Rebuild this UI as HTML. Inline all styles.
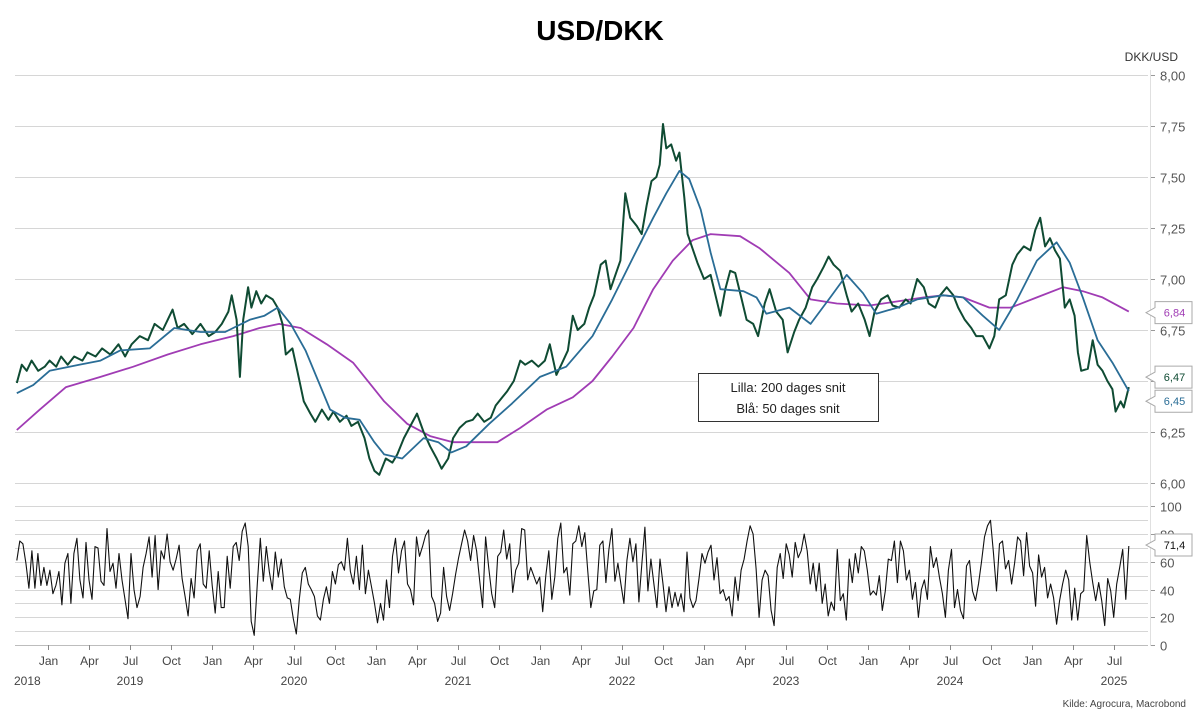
<!DOCTYPE html>
<html><head><meta charset="utf-8"><title>USD/DKK</title>
<style>
html,body{margin:0;padding:0;background:#fff;}
svg{display:block;font-family:"Liberation Sans",sans-serif;}
</style></head>
<body>
<svg id="chart" width="1199" height="720" viewBox="0 0 1199 720" xmlns="http://www.w3.org/2000/svg">
<text x="600" y="40" text-anchor="middle" font-size="28" font-weight="bold" fill="#000">USD/DKK</text>
<text x="1178" y="61" text-anchor="end" font-size="12" fill="#333">DKK/USD</text>
<g id="grid"></g>
<g id="axes"></g>
<g id="series"></g>
<g id="labels"></g>
<g>
<rect x="698.5" y="373.5" width="180" height="48" fill="#fff" stroke="#333" stroke-width="1"/>
<text x="788" y="392" text-anchor="middle" font-size="13" fill="#222">Lilla: 200 dages snit</text>
<text x="788" y="413" text-anchor="middle" font-size="13" fill="#222">Blå: 50 dages snit</text>
</g>
<text x="1186" y="707" text-anchor="end" font-size="10" fill="#444">Kilde: Agrocura, Macrobond</text>
</svg>
<script>
const priceDates=[2018.81,2018.84,2018.87,2018.90,2018.94,2018.98,2019.01,2019.05,2019.08,2019.12,2019.16,2019.21,2019.24,2019.29,2019.33,2019.38,2019.43,2019.47,2019.51,2019.56,2019.61,2019.65,2019.70,2019.73,2019.76,2019.79,2019.83,2019.88,2019.93,2019.98,2020.02,2020.06,2020.10,2020.12,2020.15,2020.17,2020.19,2020.22,2020.24,2020.27,2020.30,2020.33,2020.37,2020.40,2020.43,2020.45,2020.49,2020.52,2020.56,2020.60,2020.63,2020.67,2020.71,2020.74,2020.78,2020.82,2020.85,2020.89,2020.93,2020.96,2020.99,2021.02,2021.06,2021.10,2021.13,2021.17,2021.21,2021.25,2021.29,2021.33,2021.37,2021.40,2021.44,2021.47,2021.51,2021.55,2021.59,2021.62,2021.66,2021.70,2021.73,2021.77,2021.80,2021.84,2021.88,2021.91,2021.95,2021.99,2022.03,2022.06,2022.10,2022.13,2022.17,2022.20,2022.23,2022.27,2022.30,2022.33,2022.37,2022.40,2022.43,2022.46,2022.49,2022.52,2022.55,2022.59,2022.62,2022.65,2022.68,2022.71,2022.73,2022.75,2022.77,2022.80,2022.83,2022.85,2022.88,2022.90,2022.93,2022.96,2023.00,2023.04,2023.07,2023.10,2023.13,2023.16,2023.19,2023.23,2023.26,2023.30,2023.33,2023.37,2023.40,2023.44,2023.48,2023.51,2023.55,2023.58,2023.62,2023.66,2023.69,2023.73,2023.76,2023.79,2023.83,2023.87,2023.90,2023.94,2023.98,2024.01,2024.04,2024.08,2024.12,2024.15,2024.19,2024.23,2024.26,2024.30,2024.34,2024.37,2024.41,2024.44,2024.48,2024.52,2024.55,2024.59,2024.63,2024.66,2024.70,2024.74,2024.77,2024.80,2024.84,2024.88,2024.91,2024.95,2024.99,2025.02,2025.05,2025.08,2025.11,2025.14,2025.17,2025.20,2025.23,2025.26,2025.28,2025.30,2025.34,2025.37,2025.40,2025.43,2025.46,2025.49,2025.51,2025.54,2025.56,2025.59];
const priceValues=[6.49,6.58,6.55,6.60,6.55,6.57,6.60,6.57,6.62,6.58,6.62,6.60,6.64,6.62,6.66,6.63,6.68,6.62,6.68,6.72,6.70,6.78,6.75,6.80,6.85,6.76,6.78,6.73,6.78,6.72,6.74,6.78,6.84,6.92,6.80,6.52,6.80,6.96,6.86,6.94,6.88,6.92,6.90,6.86,6.78,6.63,6.66,6.55,6.40,6.34,6.30,6.36,6.31,6.35,6.30,6.33,6.28,6.30,6.22,6.12,6.06,6.04,6.12,6.10,6.14,6.22,6.28,6.34,6.25,6.18,6.12,6.07,6.12,6.22,6.27,6.30,6.31,6.34,6.30,6.32,6.38,6.42,6.45,6.50,6.60,6.58,6.60,6.57,6.60,6.68,6.53,6.58,6.65,6.82,6.75,6.78,6.86,6.92,7.07,7.09,6.95,7.02,7.09,7.42,7.30,7.26,7.22,7.36,7.48,7.50,7.56,7.76,7.64,7.66,7.58,7.62,7.40,7.22,7.15,7.08,7.00,7.02,6.92,6.82,6.95,7.04,7.03,6.90,6.80,6.78,6.72,6.88,6.95,6.84,6.80,6.64,6.74,6.80,6.86,6.96,7.00,7.06,7.11,7.07,7.04,6.92,6.84,6.88,6.80,6.72,6.84,6.90,6.92,6.87,6.86,6.90,6.88,7.00,6.96,6.88,6.86,6.92,6.96,6.92,6.86,6.80,6.76,6.72,6.72,6.66,6.72,6.90,6.92,7.07,7.12,7.16,7.14,7.24,7.30,7.16,7.20,7.14,7.10,6.86,6.90,6.82,6.64,6.55,6.56,6.70,6.58,6.55,6.50,6.46,6.35,6.40,6.37,6.47];
const ma50Dates=[2018.81,2018.91,2019.01,2019.19,2019.32,2019.44,2019.62,2019.77,2019.93,2020.08,2020.23,2020.32,2020.40,2020.48,2020.57,2020.72,2020.81,2020.90,2020.99,2021.05,2021.16,2021.29,2021.38,2021.46,2021.55,2021.69,2021.83,2022.00,2022.16,2022.32,2022.44,2022.57,2022.69,2022.77,2022.85,2022.91,2022.98,2023.04,2023.10,2023.24,2023.32,2023.38,2023.52,2023.65,2023.77,2023.87,2023.97,2024.05,2024.18,2024.30,2024.46,2024.58,2024.70,2024.80,2024.91,2025.03,2025.15,2025.23,2025.31,2025.40,2025.49,2025.59];
const ma50Values=[6.44,6.48,6.55,6.58,6.60,6.65,6.66,6.76,6.74,6.74,6.80,6.82,6.86,6.78,6.65,6.36,6.32,6.31,6.20,6.14,6.12,6.22,6.20,6.15,6.18,6.29,6.39,6.52,6.57,6.72,6.90,7.11,7.30,7.42,7.53,7.49,7.34,7.13,6.95,6.94,6.91,6.83,6.86,6.78,6.91,7.02,6.93,6.83,6.86,6.90,6.92,6.91,6.82,6.75,6.90,7.09,7.18,7.08,6.91,6.70,6.59,6.45];
const ma200Dates=[2018.81,2018.95,2019.11,2019.32,2019.52,2019.73,2019.93,2020.13,2020.29,2020.41,2020.54,2020.70,2020.86,2020.98,2021.05,2021.19,2021.33,2021.47,2021.63,2021.74,2021.88,2022.04,2022.20,2022.32,2022.44,2022.57,2022.69,2022.81,2022.93,2023.04,2023.22,2023.34,2023.46,2023.52,2023.65,2023.81,2024.01,2024.18,2024.34,2024.46,2024.58,2024.74,2024.87,2025.03,2025.19,2025.31,2025.43,2025.59];
const ma200Values=[6.26,6.36,6.47,6.52,6.57,6.63,6.68,6.72,6.76,6.78,6.76,6.68,6.59,6.47,6.40,6.29,6.23,6.20,6.20,6.20,6.27,6.36,6.42,6.50,6.62,6.76,6.95,7.09,7.19,7.22,7.21,7.15,7.07,7.03,6.90,6.88,6.87,6.89,6.91,6.92,6.91,6.86,6.86,6.91,6.96,6.94,6.91,6.84];
const rsiStart=2018.81, rsiEnd=2025.59;
const rsiValues=[61,75,73,59,41,68,41,66,43,56,43,54,37,43,53,29,59,66,30,66,77,47,34,74,47,33,71,70,46,43,84,53,59,41,66,47,33,19,66,40,27,35,56,66,78,49,79,40,68,62,80,60,54,62,72,48,35,21,48,34,68,73,44,41,68,43,23,53,27,27,64,41,71,74,61,82,88,71,17,7,44,77,46,71,53,40,67,49,62,42,34,33,19,8,33,52,56,44,40,35,21,18,33,42,30,53,44,58,60,54,77,53,44,64,40,72,37,54,42,30,16,30,18,47,27,64,77,52,68,75,44,40,29,78,64,71,79,83,35,30,17,23,56,35,25,37,51,63,73,83,75,61,79,68,47,27,78,56,37,27,64,67,83,62,73,38,54,59,84,83,47,56,50,44,49,24,50,68,33,49,77,88,52,56,36,73,75,86,71,
81,53,27,39,40,72,75,45,69,84,46,59,44,30,61,77,60,73,31,59,85,39,62,44,27,62,44,24,42,27,38,28,37,24,67,34,27,32,48,66,59,67,72,47,63,37,40,32,35,21,49,32,54,62,75,86,80,55,20,47,54,50,25,14,56,66,48,73,65,49,74,63,68,80,68,44,59,39,59,30,44,21,31,25,69,32,37,18,62,45,66,52,71,68,54,36,
39,36,50,25,39,62,61,75,45,75,68,47,54,33,45,20,40,47,33,71,56,63,49,37,20,54,69,27,40,25,19,57,61,39,32,44,60,78,86,90,66,39,73,75,55,61,44,59,78,75,50,81,57,52,28,65,49,56,34,44,34,15,32,44,54,47,18,41,18,37,39,79,60,45,32,45,32,14,48,39,20,44,56,69,33,71.4];
const priceTicks=[6.00,6.25,6.50,6.75,7.00,7.25,7.50,7.75,8.00];
const rsiTicks=[0,20,40,60,80,100];
const monthNames=["Jan","Apr","Jul","Oct"];
const yearLabels=["2018","2019","2020","2021","2022","2023","2024","2025"];
const yearPos=[2018.88,2019.5,2020.5,2021.5,2022.5,2023.5,2024.5,2025.5];

const NS="http://www.w3.org/2000/svg";
const X0=15,X1=1148;
function xs(t){return 48+(t-2019)*164;}
function yP(v){return 483-(v-6)*204;}
function yR(v){return 645-v*1.386;}
function mk(tag,attrs,parent){const e=document.createElementNS(NS,tag);for(const k in attrs)e.setAttribute(k,attrs[k]);parent.appendChild(e);return e;}
const grid=document.getElementById('grid'),axes=document.getElementById('axes'),series=document.getElementById('series'),labels=document.getElementById('labels');
const fmt=v=>v.toFixed(2).replace('.',',');

priceTicks.forEach(v=>{
  const y=Math.round(yP(v))+0.5;
  const l=mk('line',{x1:X0,x2:X1,y1:y,y2:y,stroke:'#d6d6d6','stroke-width':1},grid);
  
  
  mk('line',{x1:X1+2,x2:X1+7,y1:y,y2:y,stroke:'#999','stroke-width':1},axes);
  const t=mk('text',{x:1160,y:y+5,'font-size':13,fill:'#555'},axes);
  t.textContent=fmt(v);
  
  
});
for(let v=0;v<=100;v+=10){
  const y=Math.round(yR(v))+0.5;
  const l=mk('line',{x1:X0,x2:X1,y1:y,y2:y,stroke:v===0?'#bdbdbd':'#d6d6d6','stroke-width':1},grid);
  
  
}
rsiTicks.forEach(v=>{
  const y=Math.round(yR(v))+0.5;
  mk('line',{x1:X1+2,x2:X1+7,y1:y,y2:y,stroke:'#999','stroke-width':1},axes);
  const t=mk('text',{x:1160,y:y+5,'font-size':13,fill:'#555'},axes);
  t.textContent=String(v);
  
  
});
mk('line',{x1:X1+2.5,x2:X1+2.5,y1:70,y2:646,stroke:'#e0e0e0','stroke-width':1},axes);
for(let yr=2019;yr<=2025;yr++){
  for(let q=0;q<4;q++){
    const t=yr+q*0.25; if(t>2025.6)break;
    const x=Math.round(xs(t))+0.5;
    mk('line',{x1:x,x2:x,y1:645,y2:650,stroke:'#888','stroke-width':1},axes);
    const tx=mk('text',{x:x,y:665,'text-anchor':'middle','font-size':12,fill:'#444'},axes);
    tx.textContent=monthNames[q];
    
    
  }
}
yearLabels.forEach((s,i)=>{
  const tx=mk('text',{x:i===0?14:xs(yearPos[i]),y:685,'text-anchor':i===0?'start':'middle','font-size':12,fill:'#444'},axes);
  tx.textContent=s;
  
  
});

function path(dates,vals,yf){return dates.map((d,i)=>(i?'L':'M')+xs(d).toFixed(1)+' '+yf(vals[i]).toFixed(1)).join(' ');}
const p200=mk('path',{d:path(ma200Dates,ma200Values,yP),fill:'none',stroke:'#a03cb4','stroke-width':1.8,'stroke-linejoin':'round'},series);


const pPrice=mk('path',{d:path(priceDates,priceValues,yP),fill:'none',stroke:'#0f4b33','stroke-width':2,'stroke-linejoin':'round'},series);


const p50=mk('path',{d:path(ma50Dates,ma50Values,yP),fill:'none',stroke:'#2a6d96','stroke-width':1.8,'stroke-linejoin':'round'},series);


const rsiDates=rsiValues.map((v,i)=>rsiStart+(rsiEnd-rsiStart)*i/(rsiValues.length-1));
const pR=mk('path',{d:path(rsiDates,rsiValues,yR),fill:'none',stroke:'#111','stroke-width':1.1,'stroke-linejoin':'round'},series);



function tag(y,text,color,name){
  const g=mk('g',{},labels);
  
  
  const h=11,x0=1155,x1=1192;
  mk('path',{d:`M${x0-9} ${y} L${x0} ${y-5} L${x0} ${y-h} L${x1} ${y-h} L${x1} ${y+h} L${x0} ${y+h} L${x0} ${y+5} Z`,fill:'#fff',stroke:'#aaa','stroke-width':1},g);
  const t=mk('text',{x:(x0+x1)/2+1,y:y+4,'text-anchor':'middle','font-size':11,fill:color},g);
  t.textContent=text;
}
tag(yP(ma200Values[ma200Values.length-1])+1,fmt(ma200Values[ma200Values.length-1]),'#a03cb4','ma200-last-value');
tag(yP(priceValues[priceValues.length-1])-10,fmt(priceValues[priceValues.length-1]),'#0f4b33','price-last-value');
tag(yP(ma50Values[ma50Values.length-1])+10,fmt(ma50Values[ma50Values.length-1]),'#2a6d96','ma50-last-value');
tag(yR(rsiValues[rsiValues.length-1])-1,rsiValues[rsiValues.length-1].toFixed(1).replace('.',','),'#111','rsi-last-value');
</script>
</body></html>
